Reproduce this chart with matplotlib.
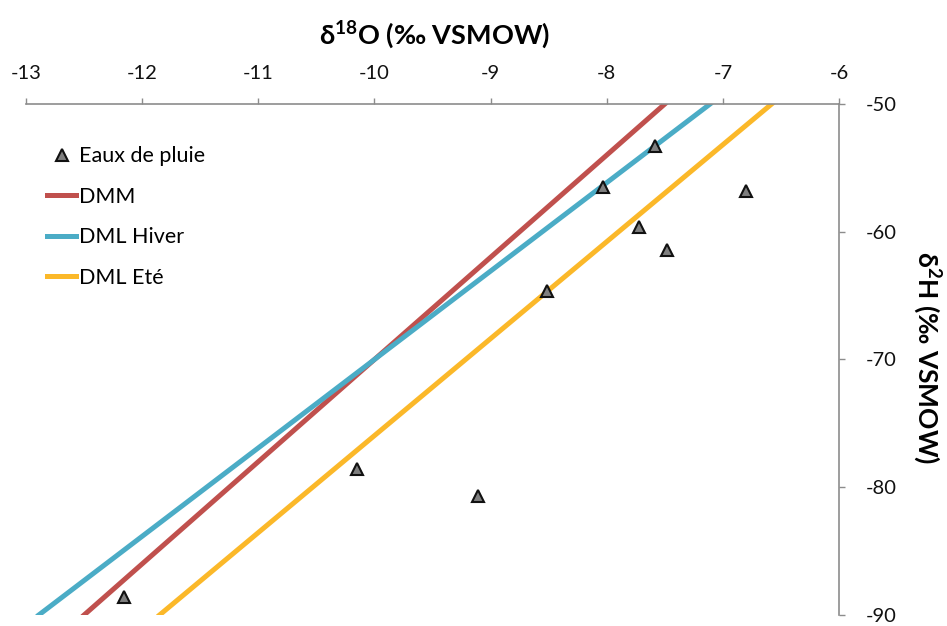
import matplotlib
matplotlib.use("Agg")
import matplotlib.pyplot as plt

# Rain water samples (d18O, d2H)
rain_d18o = [-7.58, -8.03, -6.80, -7.72, -7.48, -8.51, -10.15, -9.11, -12.16]
rain_d2h = [-53.3, -56.5, -56.8, -59.6, -61.4, -64.6, -78.6, -80.7, -88.6]

# Meteoric water lines, endpoints
dmm_x = [-12.5, -7.5]
dmm_y = [-90, -50]
hiver_x = [-12.89, -7.11]
hiver_y = [-90, -50]
ete_x = [-11.85, -6.58]
ete_y = [-90, -50]

labels = ["Eaux de pluie", "DMM", "DML Hiver", "DML Eté"]
x_ticks = [-13, -12, -11, -10, -9, -8, -7, -6]
y_ticks = [-90, -80, -70, -60, -50]

plt.rcParams["font.family"] = ["Lato", "Open Sans", "DejaVu Sans"]
plt.rcParams["mathtext.fontset"] = "custom"
plt.rcParams["mathtext.rm"] = "Lato"
plt.rcParams["mathtext.bf"] = "Lato:bold"
plt.rcParams["axes.unicode_minus"] = False

fig = plt.figure(figsize=(9.47, 6.26), dpi=100)
# axes box in pixels: x 26..839, y 104..615
ax = fig.add_axes([26 / 947, 1 - 615 / 626, 813 / 947, 511 / 626])

ax.plot(rain_d18o, rain_d2h, linestyle="none", marker="^", markersize=9,
        markerfacecolor="#7f7f7f", markeredgecolor="#111111", markeredgewidth=1.5,
        label=labels[0], zorder=5)
ax.plot(dmm_x, dmm_y, color="#c0504d", linewidth=3.6, label=labels[1])
ax.plot(hiver_x, hiver_y, color="#4bacc6", linewidth=3.6, label=labels[2])
ax.plot(ete_x, ete_y, color="#fbb829", linewidth=3.6, label=labels[3])

ax.set_xlim(-13, -6)
ax.set_ylim(-90, -50)
ax.set_xticks(x_ticks)
ax.set_yticks(y_ticks)

ax.xaxis.tick_top()
ax.yaxis.tick_right()

for side in ["left", "bottom"]:
    ax.spines[side].set_visible(False)
for side in ["top", "right"]:
    ax.spines[side].set_color("#8c8c8c")
    ax.spines[side].set_linewidth(1.2)

ax.tick_params(axis="both", direction="out", length=4, width=1, color="#8c8c8c",
               labelsize=14.5, labelcolor="#111111")
ax.tick_params(axis="x", pad=12)
ax.tick_params(axis="y", pad=15)

fig.text(435 / 947, 1 - 35 / 626, r"δ$^{\mathbf{18}}$O (‰ VSMOW)", fontsize=19.5,
         fontweight="bold", ha="center", va="center")
fig.text(927 / 947, 1 - 358 / 626, r"δ$^{\mathbf{2}}$H (‰ VSMOW)", fontsize=19,
         fontweight="bold", rotation=-90, ha="center", va="center")

ax.legend(loc="upper left", bbox_to_anchor=(0.002, 0.955), frameon=False, fontsize=15.5,
          handlelength=1.35, handletextpad=0.15, labelspacing=0.95)

fig.savefig("out.png", dpi=100)
